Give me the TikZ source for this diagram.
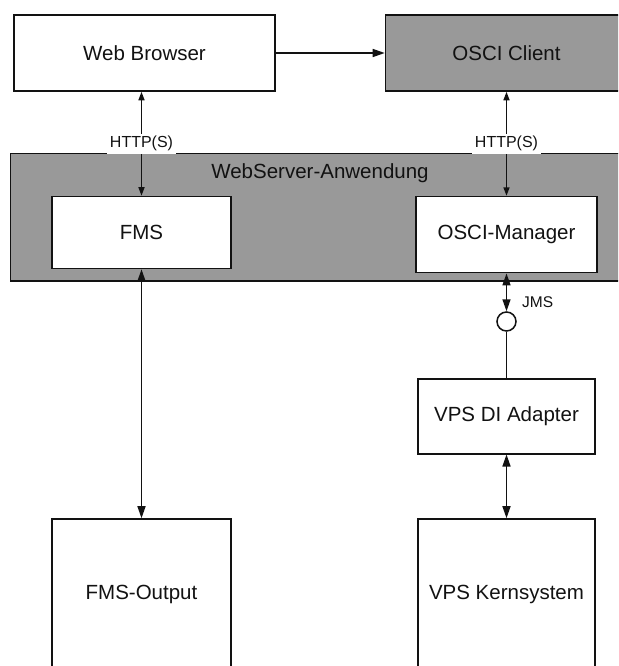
\documentclass[tikz,border=0pt]{standalone}
\usepackage{fontspec}
\setmainfont{Liberation Sans}
\usetikzlibrary{arrows.meta}

\definecolor{panelgray}{RGB}{153,153,153}
\definecolor{inkline}{RGB}{18,18,18}

\tikzset{
  bighead/.tip={Triangle[length=12pt,width=8pt]},
  smallhead/.tip={Triangle[length=8.5pt,width=6pt]},
  block/.style={draw=inkline, line width=1.6pt, fill=white, inner sep=0pt,
                text=inkline, font=\fontsize{20.5}{24}\selectfont},
  shaded/.style={block, fill=panelgray},
  caption/.style={inner sep=0pt, text=inkline, font=\fontsize{20.5}{24}\selectfont},
  protocol/.style={fill=white, inner xsep=3pt, inner ysep=2.5pt, text=inkline,
                   font=\fontsize{16}{18}\selectfont},
  link/.style={draw=inkline, line width=1.5pt},
  port/.style={draw=inkline, line width=1.5pt, circle, fill=white,
               minimum size=19pt, inner sep=0pt}
}

\begin{document}
\begin{tikzpicture}[x=1pt, y=-1pt]
  \clip (0,0) rectangle (618,666);
  \fill[white] (0,0) rectangle (618,666);

  % top row
  \node[block,  minimum width=261pt, minimum height=76pt] (wb)   at (144.5,53) {Web Browser};
  \node[shaded, minimum width=242pt, minimum height=76pt] (osci) at (506.5,53) {OSCI Client};

  % web server container with its two components
  \node[shaded, minimum width=620pt, minimum height=127.5pt] (ws) at (320.6,217.2) {};
  \node[caption] (wstitle) at (320,173.5) {WebServer-Anwendung};
  \node[block, minimum width=179pt, minimum height=72pt] (fms) at (141.5,232.5) {FMS};
  \node[block, minimum width=181pt, minimum height=76pt] (mgr) at (506.5,234.6) {OSCI-Manager};

  % JMS interface and adapter
  \node[port] (jmsport) at (506.5,321.5) {};
  \node[anchor=west, inner sep=0pt, text=inkline, font=\fontsize{15.5}{18}\selectfont]
       (jmslabel) at (522,302) {JMS};
  \node[block, minimum width=177pt, minimum height=75pt] (adapter) at (506.5,416.2) {VPS DI Adapter};

  % back-end systems
  \node[block, minimum width=179pt, minimum height=151pt] (out)  at (141.5,594.5) {FMS-Output};
  \node[block, minimum width=177pt, minimum height=151pt] (kern) at (506.5,594.5) {VPS Kernsystem};

  % connectors
  \draw[link, -bighead] (wb) -- (osci);
  \draw[link, smallhead-smallhead] (fms.north) -- (fms.north |- wb.south)
        node[protocol, midway] (http1) {HTTP(S)};
  \draw[link, smallhead-smallhead] (mgr.north) -- (mgr.north |- osci.south)
        node[protocol, midway] (http2) {HTTP(S)};
  \draw[link, bighead-bighead] (mgr.south) -- (jmsport.north);
  \draw[link] (jmsport.south) -- (adapter.north);
  \draw[link, bighead-bighead] (fms.south) -- (out.north);
  \draw[link, bighead-bighead] (adapter.south) -- (kern.north);
\end{tikzpicture}
\end{document}
